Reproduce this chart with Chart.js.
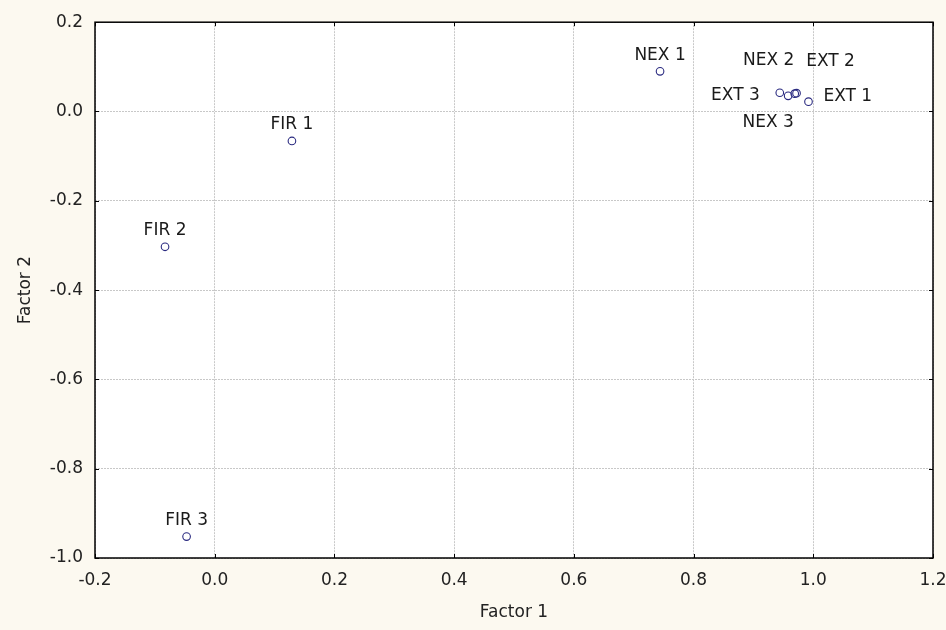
<!DOCTYPE html>
<html>
<head>
<meta charset="utf-8">
<script src="https://cdn.jsdelivr.net/npm/chart.js@4"></script>
<style>
    html, body { margin: 0; padding: 0; background: #fcf9f0; }
    #wrap { width: 946px; height: 630px; }
</style>
</head>
<body>
<div id="wrap"><canvas id="scatter"></canvas></div>
<script>
// cargas factoriales
const labels  = ['FIR 1', 'FIR 2', 'FIR 3', 'NEX 1', 'NEX 2', 'NEX 3', 'EXT 1', 'EXT 2', 'EXT 3'];
const factor1 = [0.129, -0.083, -0.047, 0.744, 0.969, 0.958, 0.992, 0.972, 0.944];
const factor2 = [-0.066, -0.303, -0.952, 0.090, 0.040, 0.035, 0.022, 0.041, 0.042];
const xTicks = [-0.2, 0.0, 0.2, 0.4, 0.6, 0.8, 1.0, 1.2];
const yTicks = [0.2, 0.0, -0.2, -0.4, -0.6, -0.8, -1.0];

// dónde va cada etiqueta respecto a su punto (dx, dy, alineación)
const labelPlace = {
    'NEX 2': [-26, -33, 'center'],
    'NEX 3': [-20, 27, 'center'],
    'EXT 1': [15, -5, 'left'],
    'EXT 2': [34, -32, 'center'],
    'EXT 3': [-20, 3, 'right']
};

const FONT = { family: '"DejaVu Sans", Arial, sans-serif', size: 17 };

const plotFrame = {
    id: 'plotFrame',
    beforeDraw(chart) {
        const { ctx, chartArea: a } = chart;
        ctx.save();
        ctx.fillStyle = '#ffffff';
        ctx.fillRect(a.left, a.top, a.right - a.left, a.bottom - a.top);
        ctx.restore();
    },
    afterDatasetsDraw(chart) {
        const { ctx, chartArea: a, scales } = chart;
        ctx.save();
        // marcas hacia dentro
        ctx.strokeStyle = '#000';
        ctx.lineWidth = 1;
        ctx.beginPath();
        scales.x.ticks.forEach(t => {
            const px = Math.round(scales.x.getPixelForValue(t.value)) + 0.5;
            ctx.moveTo(px, a.bottom); ctx.lineTo(px, a.bottom - 4);
            ctx.moveTo(px, a.top); ctx.lineTo(px, a.top + 4);
        });
        scales.y.ticks.forEach(t => {
            const py = Math.round(scales.y.getPixelForValue(t.value)) + 0.5;
            ctx.moveTo(a.left, py); ctx.lineTo(a.left + 4, py);
            ctx.moveTo(a.right, py); ctx.lineTo(a.right - 4, py);
        });
        ctx.stroke();
        ctx.lineWidth = 1.5;
        ctx.strokeRect(a.left, a.top, a.right - a.left, a.bottom - a.top);

        // etiquetas de los puntos
        const meta = chart.getDatasetMeta(0);
        ctx.font = FONT.size + 'px ' + FONT.family;
        ctx.fillStyle = '#1a1a1a';
        ctx.textBaseline = 'middle';
        meta.data.forEach((pt, i) => {
            const name = labels[i];
            const p = labelPlace[name] || [0, -16, 'center'];
            ctx.textAlign = p[2];
            ctx.fillText(name, pt.x + p[0], pt.y + p[1]);
        });
        ctx.restore();
    }
};

new Chart(document.getElementById('scatter').getContext('2d'), {
    type: 'scatter',
    data: {
        labels,
        datasets: [{
            data: factor1.map((v, i) => ({ x: v, y: factor2[i] })),
            pointStyle: 'circle',
            pointRadius: 3.8,
            pointHoverRadius: 3.8,
            borderWidth: 1.1,
            borderColor: '#2a2a80',
            backgroundColor: 'rgba(255,255,255,0)'
        }]
    },
    options: {
        responsive: true,
        maintainAspectRatio: false,
        animation: false,
        layout: { padding: { left: 0, top: 21, right: 0, bottom: 0 } },
        plugins: {
            legend: { display: false },
            tooltip: { enabled: false }
        },
        scales: {
            x: {
                type: 'linear',
                min: -0.2,
                max: 1.2,
                afterFit(scale) {
                    scale.height = 72;
                    scale.paddingRight = 13;
                },
                afterBuildTicks(scale) { scale.ticks = xTicks.map(v => ({ value: v })); },
                ticks: {
                    padding: 12,
                    color: '#222',
                    font: FONT,
                    maxRotation: 0,
                    callback: v => v.toFixed(1)
                },
                grid: { drawTicks: false, color: '#c8c8c8' },
                border: { display: false, dash: [2, 1] },
                title: {
                    display: true,
                    text: 'Factor 1',
                    color: '#222',
                    font: FONT,
                    padding: { top: 0, bottom: 7 }
                }
            },
            y: {
                type: 'linear',
                min: -1.0,
                max: 0.2,
                afterFit(scale) { scale.width = 95; },
                afterBuildTicks(scale) { scale.ticks = yTicks.map(v => ({ value: v })); },
                ticks: {
                    padding: 12,
                    color: '#222',
                    font: FONT,
                    callback: v => v.toFixed(1)
                },
                grid: { drawTicks: false, color: '#c8c8c8' },
                border: { display: false, dash: [2, 1] },
                title: {
                    display: true,
                    text: 'Factor 2',
                    color: '#222',
                    font: FONT,
                    padding: { top: 15, bottom: 0 }
                }
            }
        }
    },
    plugins: [plotFrame]
});
</script>
</body>
</html>
